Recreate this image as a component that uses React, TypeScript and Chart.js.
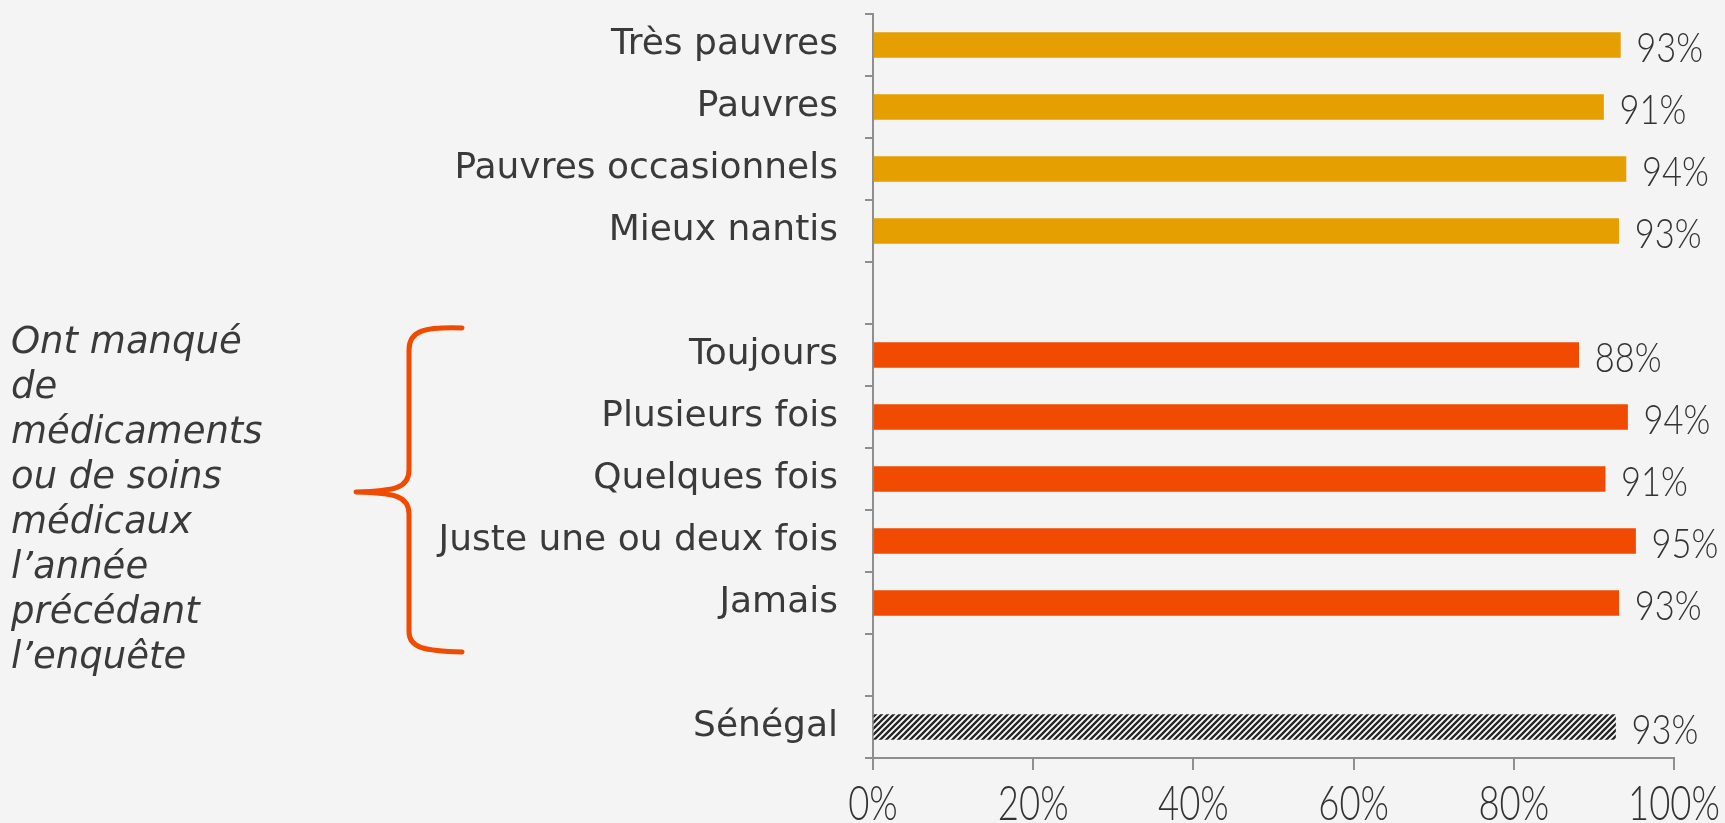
import React, { useEffect, useRef } from "react";
import { Chart, registerables } from "chart.js";

Chart.register(...registerables);

const povertyLabels = ["Très pauvres", "Pauvres", "Pauvres occasionnels", "Mieux nantis"];
const povertyValues = [93.3, 91.2, 94.0, 93.1];
const lackLabels = ["Toujours", "Plusieurs fois", "Quelques fois", "Juste une ou deux fois", "Jamais"];
const lackValues = [88.1, 94.2, 91.4, 95.2, 93.1];
const nationalLabels = ["Sénégal"];
const nationalValues = [92.7];
const xTickValues = [0, 20, 40, 60, 80, 100];
const sideNote = ["Ont manqué", "de", "médicaments", "ou de soins", "médicaux", "l’année", "précédant", "l’enquête"];

const GOLD = "#E69F00";
const ORANGE = "#F04B00";
const AXIS = "#8e8e8e";
const TEXT = "#3a3a3a";
const BG = "#f4f4f4";

const W = 1725;
const H = 823;

function makeHatch(): CanvasPattern | string {
  const c = document.createElement("canvas");
  c.width = 6;
  c.height = 6;
  const g = c.getContext("2d");
  if (!g) return "#333";
  g.fillStyle = "#ffffff";
  g.fillRect(0, 0, 6, 6);
  g.strokeStyle = "#262626";
  g.lineWidth = 2.4;
  g.beginPath();
  g.moveTo(-3, 3);
  g.lineTo(3, -3);
  g.moveTo(0, 6);
  g.lineTo(6, 0);
  g.moveTo(3, 9);
  g.lineTo(9, 3);
  g.stroke();
  const p = g.createPattern(c, "repeat");
  return p || "#333";
}

export default function App() {
  const ref = useRef<HTMLCanvasElement | null>(null);

  useEffect(() => {
    const canvas = ref.current;
    if (!canvas) return;
    const ctx = canvas.getContext("2d");
    if (!ctx) return;

    const labels = [...povertyLabels, "", ...lackLabels, " ", ...nationalLabels];
    const values: (number | null)[] = [...povertyValues, null, ...lackValues, null, ...nationalValues];
    const hatch = makeHatch();
    const colors: any[] = [
      ...povertyLabels.map(() => GOLD),
      "rgba(0,0,0,0)",
      ...lackLabels.map(() => ORANGE),
      "rgba(0,0,0,0)",
      ...nationalLabels.map(() => hatch),
    ];

    const bgPlugin = {
      id: "bg",
      beforeDraw(chart: any) {
        const c = chart.ctx;
        c.save();
        c.fillStyle = BG;
        c.fillRect(0, 0, chart.width, chart.height);
        c.restore();
      },
    };

    const labelPlugin = {
      id: "valueLabels",
      afterDatasetsDraw(chart: any) {
        const c = chart.ctx;
        const meta = chart.getDatasetMeta(0);
        meta.data.forEach((el: any, i: number) => {
          const v = values[i];
          if (v == null) return;
          c.save();
          c.font = "300 42px Lato, 'DejaVu Sans', sans-serif";
          c.fillStyle = "#333333";
          c.textBaseline = "middle";
          c.textAlign = "left";
          c.translate(el.x + 16, el.y + 3);
          c.scale(0.82, 1);
          c.fillText(Math.round(v) + "%", 0, 0);
          c.restore();
        });
        const xs = chart.scales.x;
        xTickValues.forEach((v) => {
          const px = xs.getPixelForValue(v);
          c.save();
          c.font = "300 48px Lato, 'DejaVu Sans', sans-serif";
          c.fillStyle = "#333333";
          c.textBaseline = "alphabetic";
          c.textAlign = "center";
          c.translate(px, 820);
          c.scale(0.76, 1);
          c.fillText(v + "%", 0, 0);
          c.restore();
        });
      },
    };

    const notePlugin = {
      id: "note",
      afterDraw(chart: any) {
        const c = chart.ctx;
        c.save();
        c.font = "italic 37px 'DejaVu Sans', sans-serif";
        c.fillStyle = TEXT;
        c.textBaseline = "middle";
        c.textAlign = "left";
        sideNote.forEach((line, i) => {
          c.fillText(line, 11, 343 + i * 45);
        });
        c.strokeStyle = ORANGE;
        c.lineWidth = 5;
        c.lineCap = "round";
        c.lineJoin = "round";
        c.beginPath();
        c.moveTo(462, 328);
        c.bezierCurveTo(425, 327, 409, 330, 409, 350);
        c.lineTo(409, 470);
        c.bezierCurveTo(409, 488, 395, 491, 356, 492);
        c.bezierCurveTo(395, 493, 409, 496, 409, 514);
        c.lineTo(409, 632);
        c.bezierCurveTo(409, 648, 425, 651, 462, 652);
        c.stroke();
        c.restore();
      },
    };

    const chart = new Chart(ctx, {
      type: "bar",
      data: {
        labels,
        datasets: [
          {
            data: values as any,
            backgroundColor: colors,
            borderWidth: 0,
            barThickness: 25,
          },
        ],
      },
      options: {
        indexAxis: "y",
        animation: false,
        responsive: false,
        maintainAspectRatio: false,
        events: [],
        layout: { padding: { top: 14, right: 51, left: 0, bottom: 0 } },
        plugins: {
          legend: { display: false },
          tooltip: { enabled: false },
          title: { display: false },
        },
        scales: {
          y: {
            type: "category",
            offset: true,
            grid: {
              offset: true,
              drawOnChartArea: false,
              drawTicks: true,
              tickLength: 8,
              color: AXIS,
              lineWidth: 2,
            },
            border: { display: true, color: AXIS, width: 2 },
            ticks: {
              color: TEXT,
              font: { family: "'DejaVu Sans', sans-serif", size: 36 },
              padding: 27,
              autoSkip: false,
            },
            afterFit: (s: any) => {
              s.width = 873;
              s.paddingTop = 0;
              s.paddingBottom = 0;
            },
          },
          x: {
            type: "linear",
            min: 0,
            max: 100,
            ticks: { display: false, stepSize: 20 },
            afterBuildTicks: (s: any) => {
              s.ticks = xTickValues.map((v) => ({ value: v }));
            },
            grid: {
              drawOnChartArea: false,
              drawTicks: true,
              tickLength: 12,
              color: AXIS,
              lineWidth: 2,
            },
            border: { display: true, color: AXIS, width: 2 },
            afterFit: (s: any) => {
              s.height = 65;
              s.paddingLeft = 0;
              s.paddingRight = 0;
            },
          },
        },
      },
      plugins: [bgPlugin, labelPlugin, notePlugin],
    });

    return () => chart.destroy();
  }, []);

  return (
    <div style={{ position: "absolute", left: 0, top: 0, width: W, height: H, background: BG }}>
      <canvas ref={ref} width={W} height={H} style={{ display: "block", width: W, height: H }} />
    </div>
  );
}
